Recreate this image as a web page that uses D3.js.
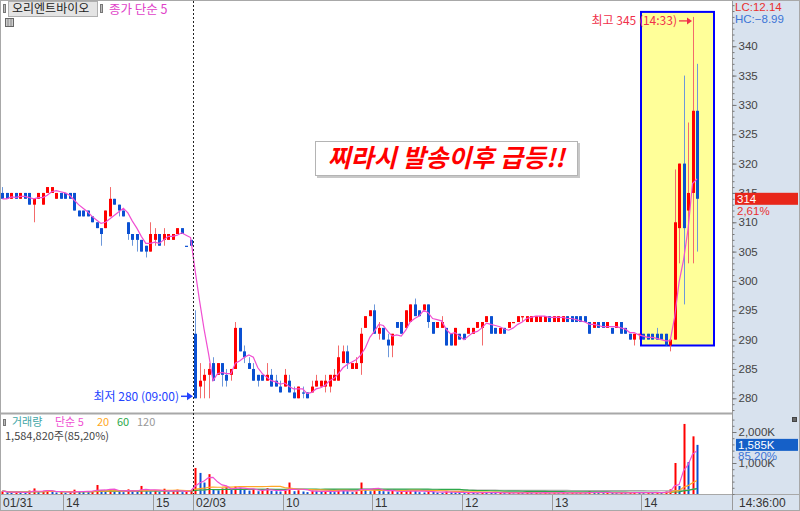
<!DOCTYPE html>
<html>
<head>
<meta charset="utf-8">
<script src="https://cdn.jsdelivr.net/npm/d3@7"></script>
<style>
  body { margin: 0; background: #fff; }
  svg { display: block; font-family: "Liberation Sans", Arial, sans-serif; }
  .kr { font-family: "Noto Sans CJK KR", sans-serif; }
</style>
</head>
<body>
<svg id="chart" width="800" height="511"></svg>
<script>
'use strict';

// ---- data (3-minute candles, 오리엔트바이오) ----
var stockName = '오리엔트바이오';
var days = ['01/31', '02/03'];

// [open, high, low, close]
var day1Ohlc = [
  [315,316,314,314],[315,315,314,314],[314,315,314,315],[315,315,314,314],[314,315,314,315],
  [315,315,314,314],[315,315,313,313],[313,314,310,314],[314,315,314,315],[313,315,313,315],
  [315,316,315,316],[315,316,315,316],[314,315,314,315],[315,315,314,314],[315,315,314,314],
  [315,315,314,314],[315,315,312,312],[312,312,311,311],[312,312,311,311],[312,312,311,311],
  [311,311,310,310],[310,310,309,309],[309,309,306,308],[309,312,309,312],[311,316,311,314],
  [314,314,313,313],[313,313,311,312],[312,312,311,311],[310,310,307,308],[308,308,306,307],
  [308,308,305,307],[307,307,305,305],[306,306,304,305],[305,310,305,308],[307,309,306,308],
  [308,308,306,306],[307,309,306,308],[307,308,307,308],[307,308,307,308],[308,309,308,309],
  [309,309,308,308],[306,306,306,306],[307,307,306,306]
];
var day2Ohlc = [
  [291,295,280,280],[282,286,280,283],[283,285,280,284],[284,286,280,285],[286,287,283,283],
  [284,286,284,286],[286,286,282,284],[284,285,282,283],[284,285,283,285],[285,293,285,292],
  [292,292,288,288],[288,289,286,287],[286,287,285,285],[285,286,283,283],[284,284,282,283],
  [284,284,283,283],[283,286,283,284],[284,285,282,282],[283,284,282,282],[282,283,281,281],
  [282,285,282,284],[283,284,281,281],[281,282,280,280],[280,282,280,282],[281,282,280,281],
  [281,281,280,280],[281,283,281,282],[282,284,282,283],[282,283,282,283],[282,284,281,283],
  [282,284,281,284],[283,285,283,284],[283,289,283,287],[286,289,286,288],[288,289,285,286],
  [285,286,285,286],[285,287,285,286],[286,292,284,291],[292,294,292,294],[294,295,294,295],
  [295,296,291,291],[291,293,290,292],[292,292,290,290],[290,291,287,289],[289,291,287,291],
  [293,293,292,292],[293,293,291,291],[292,295,292,295],[293,296,293,296],[296,297,294,294],
  [295,295,294,294],[295,296,295,296],[296,296,292,293],[293,293,291,291],[292,293,292,293],
  [292,294,292,293],[292,292,289,289],[291,291,289,289],[289,292,289,292],[291,291,290,290],
  [291,291,290,290],[291,292,291,292],[291,292,291,292],[292,293,292,293],[292,293,289,293],
  [293,294,293,294],[294,294,291,291],[292,292,291,291],[291,292,291,292],[292,292,291,291],
  [292,293,292,293],[293,293,293,293],[293,294,293,294],[294,294,293,294],[293,294,293,294],
  [293,294,293,294],[293,294,293,294],[293,294,293,294],[293,294,293,294],[294,294,293,293],
  [293,294,293,294],[293,294,293,294],[293,294,293,294],[294,294,293,293],[294,294,293,293],
  [294,294,293,293],[294,294,293,293],[294,294,293,293],[293,293,291,291],[292,293,292,293],
  [293,293,292,292],[293,293,292,292],[292,293,292,293],[292,292,291,291],[292,293,292,293],
  [293,293,291,291],[292,292,291,291],[291,291,290,290],[290,291,289,291],[291,291,290,291],
  [291,291,290,290],[291,291,290,290],[291,291,290,290],[291,292,290,290],[291,291,290,290],
  [291,291,289,289],[289,290,288,290],[290,319,290,310],[309,320,303,320],[320,335,296,309],
  [312,327,303,315],[315,345,303,329],[329,337,305,314]
];

// volume in thousands of shares
var day1VolK = [
  90,60,40,70,50,40,110,180,60,80,
  120,90,50,60,40,60,140,90,70,60,
  80,290,130,90,160,110,70,60,150,120,
  90,260,110,80,120,70,170,60,80,140,
  60,90,110
];
var day2VolK = [
  840,680,370,640,150,120,180,230,150,240,
  200,130,110,150,90,120,190,100,90,80,
  110,370,90,120,80,60,110,90,70,100,
  80,60,150,120,90,60,80,370,160,90,
  180,120,90,80,100,60,70,110,130,100,
  60,50,90,70,50,40,80,60,50,40,
  30,50,40,30,60,50,40,30,40,30,
  50,20,40,30,50,30,40,30,60,30,
  40,30,50,30,40,30,40,30,90,50,
  40,30,50,40,30,40,30,50,60,40,
  30,50,40,60,30,80,150,1000,260,2260,
  1030,1860.12,1584.82
];

var priceTicks = [280, 285, 290, 295, 300, 305, 310, 315, 320, 325, 330, 335, 340];
var volumeTicks = [1000, 2000];
var timeTicks = [
  { key: '01/31 13:18', label: '01/31' },
  { key: '01/31 14:00', label: '14' },
  { key: '01/31 15:00', label: '15' },
  { key: '02/03 09:00', label: '02/03' },
  { key: '02/03 10:00', label: '10' },
  { key: '02/03 11:00', label: '11' },
  { key: '02/03 12:00', label: '12' },
  { key: '02/03 13:00', label: '13' },
  { key: '02/03 14:00', label: '14' }
];
var prevClose = 306, lastTime = '14:36:00';
var maColors = { 5: '#f04fd2', 20: '#ffa726', 60: '#2ca84a', 120: '#a8a8a8' };

// ---- build candles ----
function hhmm(m) {
  return String(Math.floor(m / 60)).padStart(2, '0') + ':' + String(m % 60).padStart(2, '0');
}
var day1Times = d3.range(41).map(function (i) { return hhmm(13 * 60 + 18 + 3 * i); }).concat(['15:20', '15:30']);
var day2Times = d3.range(day2Ohlc.length).map(function (i) { return hhmm(9 * 60 + 3 * i); });

var candles = [];
[[day1Ohlc, day1VolK, day1Times, days[0]], [day2Ohlc, day2VolK, day2Times, days[1]]].forEach(function (set) {
  set[0].forEach(function (d, i) {
    candles.push({ key: set[3] + ' ' + set[2][i], o: d[0], h: d[1], l: d[2], c: d[3], vol: set[1][i] });
  });
});

function sma(vals, n) {
  return vals.map(function (v, i) { return d3.mean(vals.slice(Math.max(0, i - n + 1), i + 1)); });
}
var closes = candles.map(function (d) { return d.c; });
var vols = candles.map(function (d) { return d.vol; });
var closeMa5 = sma(closes, 5);

// ---- layout ----
var plotRight = 733, axisBg = '#d8e2ee';
var svg = d3.select('#chart');

var x = d3.scalePoint().domain(candles.map(function (d) { return d.key; })).range([2.4, 697]);
var y = d3.scaleLinear().domain([280, 345]).range([398.3, 16.9]);
var yVol = d3.scaleLinear().domain([0, 2000]).range([494, 432]);
function px(key) { return Math.round(x(key)); }

svg.append('rect').attr('width', 800).attr('height', 511).attr('fill', '#fff');
svg.append('rect').attr('x', plotRight).attr('y', 0).attr('width', 800 - plotRight).attr('height', 511).attr('fill', axisBg);
svg.append('rect').attr('x', 0).attr('y', 495).attr('width', 800).attr('height', 16).attr('fill', axisBg);

var defs = svg.append('defs');
defs.append('clipPath').attr('id', 'clipPrice').append('rect').attr('x', 0).attr('y', 2).attr('width', plotRight).attr('height', 411);
defs.append('clipPath').attr('id', 'clipVol').append('rect').attr('x', 0).attr('y', 415).attr('width', plotRight).attr('height', 79);

// highlight box round the jump
var lastKey = candles[candles.length - 1].key;
var boxLeft = px('02/03 14:00') - 2, boxRight = px(lastKey) + 17;
svg.append('rect')
  .attr('x', boxLeft).attr('y', y(345) - 5)
  .attr('width', boxRight - boxLeft).attr('height', y(289) - y(345) + 5)
  .attr('fill', '#ffff99').attr('stroke', '#0000ff').attr('stroke-width', 2);

// ---- candles ----
var upColor = '#ff0000', downColor = '#0a50d2';
var priceG = svg.append('g').attr('clip-path', 'url(#clipPrice)');
candles.forEach(function (d, i) {
  var prev = i > 0 ? candles[i - 1].c : prevClose;
  d.up = d.c > d.o || (d.c === d.o && d.c >= prev);
});
var cg = priceG.selectAll('g.candle').data(candles).join('g').attr('class', 'candle');
cg.append('line')
  .attr('x1', function (d) { return px(d.key) + 0.5; })
  .attr('x2', function (d) { return px(d.key) + 0.5; })
  .attr('y1', function (d) { return y(d.h); })
  .attr('y2', function (d) { return y(d.l); })
  .attr('stroke', function (d) { return d.up ? '#f36b6b' : '#6d98da'; })
  .attr('stroke-width', 1);
cg.append('rect')
  .attr('x', function (d) { return px(d.key) - 1; })
  .attr('width', 3)
  .attr('y', function (d) { return y(Math.max(d.o, d.c)); })
  .attr('height', function (d) { return Math.max(1.2, Math.abs(y(d.o) - y(d.c))); })
  .attr('fill', function (d) { return d.up ? upColor : downColor; });

priceG.append('path')
  .datum(candles)
  .attr('fill', 'none')
  .attr('stroke', maColors[5])
  .attr('stroke-width', 1.2)
  .attr('d', d3.line()
    .x(function (d) { return x(d.key); })
    .y(function (d, i) { return y(closeMa5[i]); }));

// ---- volume ----
var volG = svg.append('g').attr('clip-path', 'url(#clipVol)');
volG.selectAll('rect.vol').data(candles).join('rect').attr('class', 'vol')
  .attr('x', function (d) { return px(d.key) - 0.5; })
  .attr('width', 2)
  .attr('y', function (d) { return yVol(d.vol); })
  .attr('height', function (d) { return Math.max(1, 494 - yVol(d.vol)); })
  .attr('fill', function (d, i) {
    var p = i > 0 ? candles[i - 1].vol : 0;
    return d.vol >= p ? upColor : downColor;
  });
[120, 60, 20, 5].forEach(function (n) {
  var ma = sma(vols, n);
  volG.append('path').datum(candles)
    .attr('fill', 'none')
    .attr('stroke', maColors[n])
    .attr('stroke-width', 1.2)
    .attr('d', d3.line()
      .x(function (d) { return x(d.key); })
      .y(function (d, i) { return yVol(ma[i]); }));
});

// ---- panel frame lines ----
svg.append('line').attr('x1', 0).attr('x2', plotRight).attr('y1', 413.5).attr('y2', 413.5).attr('stroke', '#a8a8a8').attr('stroke-width', 2);
svg.append('line').attr('x1', 0).attr('x2', 800).attr('y1', 494.5).attr('y2', 494.5).attr('stroke', '#a8a8a8');
svg.append('line').attr('x1', plotRight - 0.5).attr('x2', plotRight - 0.5).attr('y1', 0).attr('y2', 511).attr('stroke', '#9a9a9a');
svg.append('rect').attr('x', 0.5).attr('y', 0.5).attr('width', 799).attr('height', 510)
  .attr('fill', 'none').attr('stroke', '#a8a8a8');

// day separator
var daySep = Math.round((x(candles[day1Ohlc.length - 1].key) + x(candles[day1Ohlc.length].key)) / 2) + 0.5;
svg.append('line').attr('x1', daySep).attr('x2', daySep).attr('y1', 1).attr('y2', 494)
  .attr('stroke', '#222').attr('stroke-dasharray', '2,2');

// ---- right price axis ----
var priceAxis = svg.append('g').attr('transform', 'translate(' + (plotRight - 0.5) + ',0)')
  .call(d3.axisRight(y).tickValues(priceTicks).tickSize(4).tickPadding(2));
var minorAxis = svg.append('g').attr('transform', 'translate(' + (plotRight - 0.5) + ',0)')
  .call(d3.axisRight(y).tickValues(d3.range(278, 348)).tickSize(2).tickFormat(''));
var volAxis = svg.append('g').attr('transform', 'translate(' + (plotRight - 0.5) + ',0)')
  .call(d3.axisRight(yVol).tickValues(volumeTicks).tickSize(4).tickPadding(2)
    .tickFormat(function (d) { return d3.format(',')(d) + 'K'; }));
var volMinor = svg.append('g').attr('transform', 'translate(' + (plotRight - 0.5) + ',0)')
  .call(d3.axisRight(yVol).tickValues(d3.range(0, 2600, 200)).tickSize(2).tickFormat(''));
[priceAxis, minorAxis, volAxis, volMinor].forEach(function (g) {
  g.select('.domain').remove();
  g.selectAll('line').attr('stroke', '#777');
  g.selectAll('text').attr('font-size', 11.5).attr('fill', '#444')
    .attr('font-family', '"Liberation Sans", Arial, sans-serif');
});

// current price / volume tags
var last = candles[candles.length - 1], prevBar = candles[candles.length - 2];
var cy = y(last.c);
svg.append('rect').attr('x', 735).attr('y', cy - 6).attr('width', 63).attr('height', 12).attr('fill', '#e8261a');
svg.append('text').attr('x', 737).attr('y', cy).attr('dy', '0.36em').attr('font-size', 11.5).attr('fill', '#fff').text(last.c);
svg.append('text').attr('x', 737).attr('y', cy + 12).attr('dy', '0.36em').attr('font-size', 11.5).attr('fill', '#e83030')
  .text(d3.format('.2f')((last.c / prevClose - 1) * 100).replace('.', ',') + '%');

var vy = yVol(last.vol);
svg.append('rect').attr('x', 736).attr('y', vy - 6).attr('width', 62).attr('height', 12).attr('fill', '#1560c8');
svg.append('text').attr('x', 738).attr('y', vy).attr('dy', '0.36em').attr('font-size', 11.5).attr('fill', '#fff')
  .text(d3.format(',')(Math.round(last.vol)) + 'K');
var volPct = last.vol / prevBar.vol * 100;
svg.append('text').attr('x', 738).attr('y', vy + 11).attr('dy', '0.36em').attr('font-size', 11.5).attr('fill', '#3b74d6')
  .text(d3.format('.2f')(volPct).replace('.', ',') + '%');

var dayHigh = d3.max(candles.slice(day1Ohlc.length), function (d) { return d.h; });
var dayLow = d3.min(candles.slice(day1Ohlc.length), function (d) { return d.l; });
svg.append('text').attr('x', 735).attr('y', 7).attr('dy', '0.36em').attr('font-size', 11.5).attr('fill', '#e83030')
  .text('LC:' + d3.format('.2f')((last.c - dayLow) / dayLow * 100));
svg.append('text').attr('x', 735).attr('y', 19).attr('dy', '0.36em').attr('font-size', 11.5).attr('fill', '#3b74d6')
  .text('HC:' + d3.format('.2f')((last.c - dayHigh) / dayHigh * 100));
svg.append('rect').attr('x', 792.5).attr('y', 417.5).attr('width', 4).attr('height', 4).attr('fill', '#666').attr('stroke', '#444');

// ---- time axis ----
var tg = svg.append('g');
timeTicks.forEach(function (t, i) {
  var tx = px(t.key);
  if (i > 0) {
    tg.append('line').attr('x1', tx - 1.5).attr('x2', tx - 1.5).attr('y1', 495).attr('y2', 511).attr('stroke', '#9a9a9a');
  }
  tg.append('text').attr('x', tx + 1).attr('y', 503).attr('dy', '0.36em')
    .attr('font-size', 12).attr('fill', '#333').text(t.label);
});
tg.append('text').attr('x', 739).attr('y', 503).attr('dy', '0.36em').attr('font-size', 12).attr('fill', '#333').text(lastTime);

// ---- legends ----
svg.append('rect').attr('x', 3.5).attr('y', 4.5).attr('width', 2).attr('height', 8).attr('fill', '#bbb').attr('stroke', '#777');
svg.append('rect').attr('x', 8.5).attr('y', 1.5).attr('width', 89).attr('height', 15).attr('fill', '#e4e4e4').attr('stroke', '#b0b0b0');
svg.append('text').attr('class', 'kr').attr('x', 12).attr('y', 9).attr('dy', '0.36em').attr('font-size', 12).attr('fill', '#222').text(stockName);
svg.append('rect').attr('x', 100.5).attr('y', 4.5).attr('width', 2).attr('height', 8).attr('fill', '#bbb').attr('stroke', '#777');
svg.append('text').attr('class', 'kr').attr('x', 109).attr('y', 9).attr('dy', '0.36em').attr('font-size', 12.5).attr('fill', '#e040c8').text('종가 단순 5');
var icon = svg.append('g');
icon.append('rect').attr('x', 5.5).attr('y', 18.5).attr('width', 8).attr('height', 8).attr('fill', '#ccc').attr('stroke', '#666');
[8, 11].forEach(function (v) {
  icon.append('line').attr('x1', v).attr('x2', v).attr('y1', 19).attr('y2', 26).attr('stroke', '#888');
});

var vl = svg.append('g').attr('class', 'kr').attr('font-size', 11);
vl.append('rect').attr('x', 3.5).attr('y', 419.5).attr('width', 2).attr('height', 6).attr('fill', '#bbb').attr('stroke', '#777');
var volLegend = [['거래량', '#3fa6a6', 12], ['단순 5', maColors[5], 55], ['20', maColors[20], 97], ['60', maColors[60], 117], ['120', '#999', 137]];
volLegend.forEach(function (l) {
  vl.append('text').attr('x', l[2]).attr('y', 422).attr('dy', '0.36em').attr('fill', l[1]).text(l[0]);
});
vl.append('text').attr('x', 5).attr('y', 436).attr('dy', '0.36em').attr('fill', '#444')
  .text(d3.format(',')(Math.round(last.vol * 1000)) + '주(' + d3.format('.2f')(volPct).replace('.', ',') + '%)');

// ---- annotations ----
var hiKey = candles.reduce(function (a, b) { return b.h > a.h ? b : a; }).key;
var hx = px(hiKey), hy = y(dayHigh) + 4;
svg.append('text').attr('class', 'kr').attr('x', hx - 16).attr('y', hy).attr('dy', '0.36em')
  .attr('text-anchor', 'end').attr('font-size', 12).attr('fill', '#f0304a').text('최고 ' + dayHigh + ' (14:33)');
svg.append('line').attr('x1', hx - 14).attr('x2', hx - 4).attr('y1', hy).attr('y2', hy).attr('stroke', '#f0304a').attr('stroke-width', 1.3);
svg.append('path').attr('d', 'M' + (hx - 1) + ',' + hy + 'l-5,-3.5v7z').attr('fill', '#f0304a');

var loKey = candles[day1Ohlc.length].key;
var lx = px(loKey), ly = y(dayLow) - 2;
svg.append('text').attr('class', 'kr').attr('x', lx - 16).attr('y', ly).attr('dy', '0.36em')
  .attr('text-anchor', 'end').attr('font-size', 12).attr('fill', '#2444ff').text('최저 ' + dayLow + ' (09:00)');
svg.append('line').attr('x1', lx - 14).attr('x2', lx - 6).attr('y1', ly).attr('y2', ly).attr('stroke', '#2444ff').attr('stroke-width', 1.5);
svg.append('path').attr('d', 'M' + (lx - 2) + ',' + ly + 'l-6,-4v8z').attr('fill', '#2444ff');

// callout
var callout = svg.append('g');
callout.append('rect').attr('x', 317).attr('y', 143).attr('width', 263).attr('height', 35).attr('fill', '#c8c8c8');
callout.append('rect').attr('x', 315.5).attr('y', 141.5).attr('width', 262).attr('height', 34).attr('fill', '#fff').attr('stroke', '#b4b4b4');
callout.append('text').attr('class', 'kr').attr('x', 446).attr('y', 158).attr('dy', '0.36em')
  .attr('text-anchor', 'middle').attr('font-size', 25).attr('font-weight', 'bold').attr('font-style', 'italic')
  .attr('fill', '#ff0000').text('찌라시 발송이후 급등!!');
</script>
</body>
</html>
